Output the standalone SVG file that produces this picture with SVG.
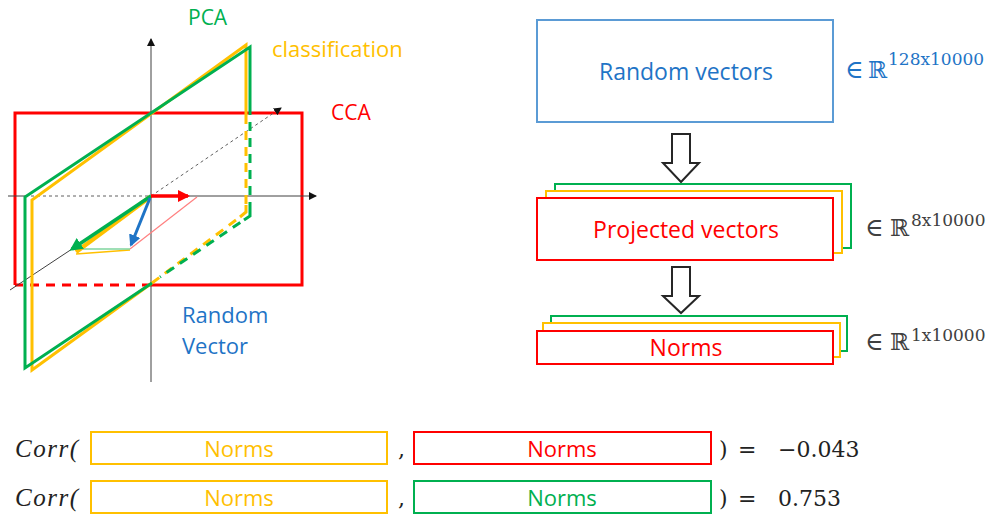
<svg xmlns="http://www.w3.org/2000/svg" width="992" height="514" viewBox="0 0 992 514">
<style>
.lbl{font-family:"Open Sans","Liberation Sans",sans-serif;}
.math{font-family:"DejaVu Serif","DejaVu Sans",serif;}
.it{font-family:"Liberation Serif","DejaVu Serif",serif;font-style:italic;font-size:25px;letter-spacing:1.5px;fill:#222;}
.ax{stroke:#404040;stroke-width:1;fill:none;}
.axd{stroke:#606060;stroke-width:1;fill:none;stroke-dasharray:3 3;}
.g{stroke:#00B050;fill:none;stroke-width:3;}
.y{stroke:#FFC000;fill:none;stroke-width:3;}
.r{stroke:#FF0000;fill:none;stroke-width:3;}
.box{fill:#fff;stroke-width:2;}
.hollow{fill:#fff;stroke:#262626;stroke-width:2;stroke-linejoin:miter;}
</style>
<defs>
<marker id="mk" markerWidth="8" markerHeight="8" refX="7" refY="4" orient="auto" markerUnits="userSpaceOnUse"><path d="M0,0 L8,4 L0,8 Z" fill="#111"/></marker>
<marker id="mr" markerWidth="12" markerHeight="12" refX="10" refY="6" orient="auto" markerUnits="userSpaceOnUse"><path d="M0,0 L12,6 L0,12 Z" fill="#FF0000"/></marker>
<marker id="mb" markerWidth="12" markerHeight="12" refX="10" refY="6" orient="auto" markerUnits="userSpaceOnUse"><path d="M0,0 L12,6 L0,12 Z" fill="#1F74C6"/></marker>
<marker id="mg" markerWidth="13" markerHeight="13" refX="10" refY="6.5" orient="auto" markerUnits="userSpaceOnUse"><path d="M0,0 L13,6.5 L0,13 Z" fill="#00B050"/></marker>
</defs>

<g id="left-diagram">
  <g id="cca-plane">
    <path class="r" d="M15,285 L15,113 L302,113 L302,285 L151,285"/>
    <path class="r" d="M151,285 L15,285" stroke-dasharray="9 7"/>
  </g>
  <g id="axes">
    <path class="ax" d="M151,382 L151,39" marker-end="url(#mk)"/>
    <path class="ax" d="M8,196 L25,196"/>
    <path class="axd" d="M25,196 L151,196"/>
    <path class="ax" d="M151,196 L316,196" marker-end="url(#mk)"/>
    <path class="ax" d="M10,290 L75,247"/>
    <path class="axd" d="M151,196 L281,108" marker-end="url(#mk)"/>
  </g>
  <g id="classification-plane">
    <path class="y" d="M246,115 L246,45 L32,200 L32,370 L152,283"/>
    <path class="y" d="M246,115 L246,205" stroke-dasharray="9 7"/>
    <path class="y" d="M246,205 L246,212 L240,217"/>
    <path class="y" d="M152,283 L240,217" stroke-dasharray="9 7"/>
  </g>
  <g id="pca-plane">
    <path class="g" d="M250,115 L250,47 L25,197 L25,368 L152,283"/>
    <path class="g" d="M250,122 L250,207" stroke-dasharray="9 7"/>
    <path class="g" d="M250,207 L250,216 L244,220"/>
    <path class="g" d="M160,277 L244,220" stroke-dasharray="9 7" stroke-dashoffset="8"/>
  </g>
  <g id="vectors">
    <path d="M197,197 L130,249" stroke="#FF8080" stroke-width="1.2" fill="none"/>
    <path d="M76,254 L130,250" stroke="#FFC000" stroke-width="1.5" fill="none"/>
    <path d="M75,249 L130,249" stroke="#7FD49E" stroke-width="1.5" fill="none"/>
    <path d="M150,197 L76,252" stroke="#FFC000" stroke-width="4.5" fill="none"/>
    <path d="M151,196 L72,249" stroke="#00B050" stroke-width="3.5" fill="none" marker-end="url(#mg)"/>
    <path d="M151,196 L188,196" stroke="#FF0000" stroke-width="3.5" fill="none" marker-end="url(#mr)"/>
    <path d="M150,198 L131,245" stroke="#1F74C6" stroke-width="3" fill="none" marker-end="url(#mb)"/>
  </g>
  <text class="lbl" x="188" y="25" font-size="21" fill="#00B050">PCA</text>
  <text class="lbl" x="272" y="57" font-size="22" fill="#FFC000">classification</text>
  <text class="lbl" x="331" y="120" font-size="21" fill="#FF0000">CCA</text>
  <text class="lbl" x="182" y="323" font-size="22" fill="#1F74C6">Random</text>
  <text class="lbl" x="182" y="354" font-size="22" fill="#1F74C6">Vector</text>
</g>

<g id="connectors">
  <path class="hollow" d="M672,134 L690,134 L690,163 L699,163 L681,182 L663,163 L672,163 Z"/>
  <path class="hollow" d="M672,267 L690,267 L690,296 L699,296 L681,313 L663,296 L672,296 Z"/>
</g>

<g id="node-random-vectors">
  <rect class="box" x="537" y="20" width="296" height="102" stroke="#5B9BD5"/>
  <text class="lbl" x="686" y="80" font-size="23" fill="#1F74C6" text-anchor="middle">Random vectors</text>
</g>
<g id="label-random-dim">
  <text class="math" x="845" y="78" font-size="25" fill="#1F74C6">∈</text>
  <text class="math" x="868" y="78" font-size="23" fill="#1F74C6">ℝ</text>
  <text class="math" x="888" y="65" font-size="17" fill="#1F74C6">128x10000</text>
</g>

<g id="node-projected-vectors">
  <rect class="box" x="555" y="184" width="296" height="64" stroke="#00B050"/>
  <rect class="box" x="546" y="191" width="296" height="62" stroke="#FFC000"/>
  <rect class="box" x="537" y="198" width="296" height="62" stroke="#FF0000"/>
  <text class="lbl" x="686" y="238" font-size="23" fill="#FF0000" text-anchor="middle">Projected vectors</text>
</g>
<g id="label-projected-dim">
  <text class="math" x="865" y="236" font-size="25" fill="#404040">∈</text>
  <text class="math" x="890" y="236" font-size="23" fill="#404040">ℝ</text>
  <text class="math" x="911" y="226" font-size="17" fill="#404040">8x10000</text>
</g>

<g id="node-norms">
  <rect class="box" x="551" y="316" width="296" height="35" stroke="#00B050"/>
  <rect class="box" x="543" y="323" width="297" height="34" stroke="#FFC000"/>
  <rect class="box" x="537" y="331" width="296" height="33" stroke="#FF0000"/>
  <text class="lbl" x="686" y="356" font-size="23" fill="#FF0000" text-anchor="middle">Norms</text>
</g>
<g id="label-norms-dim">
  <text class="math" x="865" y="350" font-size="25" fill="#404040">∈</text>
  <text class="math" x="890" y="350" font-size="23" fill="#404040">ℝ</text>
  <text class="math" x="911" y="341" font-size="17" fill="#404040">1x10000</text>
</g>

<g id="corr-row-1">
  <text class="it" x="15" y="457">Corr(</text>
  <rect class="box" x="91" y="432" width="296" height="32" stroke="#FFC000"/>
  <text class="lbl" x="239" y="457" font-size="22" fill="#FFC000" text-anchor="middle">Norms</text>
  <text class="math" x="398" y="457" font-size="22" fill="#222">,</text>
  <rect class="box" x="414" y="432" width="297" height="32" stroke="#FF0000"/>
  <text class="lbl" x="562" y="457" font-size="22" fill="#FF0000" text-anchor="middle">Norms</text>
  <text class="math" x="719" y="457" font-size="22" fill="#222">)</text>
  <text class="math" x="738" y="457" font-size="22" fill="#222">=</text>
  <text class="math" x="778" y="457" font-size="22" fill="#222">−0.043</text>
</g>
<g id="corr-row-2">
  <text class="it" x="15" y="506">Corr(</text>
  <rect class="box" x="91" y="481" width="296" height="32" stroke="#FFC000"/>
  <text class="lbl" x="239" y="506" font-size="22" fill="#FFC000" text-anchor="middle">Norms</text>
  <text class="math" x="398" y="506" font-size="22" fill="#222">,</text>
  <rect class="box" x="414" y="481" width="297" height="32" stroke="#00B050"/>
  <text class="lbl" x="562" y="506" font-size="22" fill="#00B050" text-anchor="middle">Norms</text>
  <text class="math" x="719" y="506" font-size="22" fill="#222">)</text>
  <text class="math" x="738" y="506" font-size="22" fill="#222">=</text>
  <text class="math" x="778" y="506" font-size="22" fill="#222">0.753</text>
</g>
</svg>
